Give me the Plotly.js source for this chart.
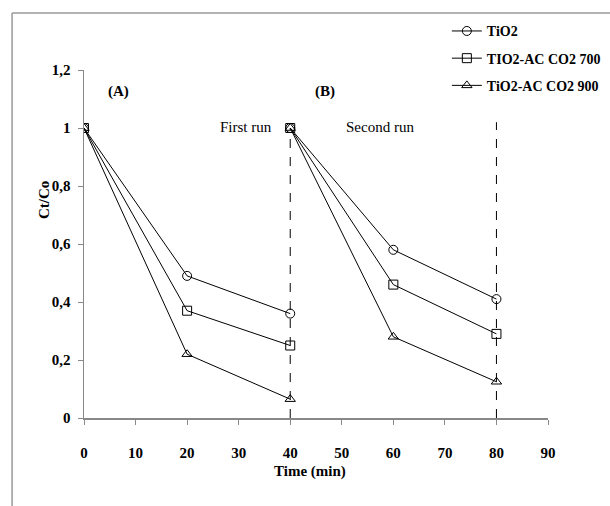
<!DOCTYPE html>
<html><head><meta charset="utf-8">
<script src="https://cdn.plot.ly/plotly-3.0.1.min.js"></script>
<style>html,body{margin:0;padding:0;background:#fff}#c{width:610px;height:506px}</style>
</head><body><div id="c"></div>
<script>
var seriesNames = ["TiO2", "TIO2-AC CO2 700", "TiO2-AC CO2 900"];
var run1Time = [0, 20, 40];
var run2Time = [40, 60, 80];
var tio2Run1 = [1, 0.49, 0.36];
var tio2Run2 = [1, 0.58, 0.41];
var ac700Run1 = [1, 0.37, 0.25];
var ac700Run2 = [1, 0.46, 0.29];
var ac900Run1 = [1, 0.22, 0.065];
var ac900Run2 = [1, 0.28, 0.125];
var runLabels = ["First run", "Second run"];
var panelLabels = ["(A)", "(B)"];

var symbols = ["circle-open", "square-open", "triangle-up-open"];
var runs = [[tio2Run1, tio2Run2], [ac700Run1, ac700Run2], [ac900Run1, ac900Run2]];
var font = "Liberation Serif";

var traces = runs.map(function (r, i) {
  return {
    type: "scatter", mode: "lines+markers", name: seriesNames[i], legendgroup: "g" + i,
    x: run1Time.concat([null], run2Time),
    y: r[0].concat([null], r[1]),
    connectgaps: false,
    line: {color: "#000", width: 1},
    marker: {symbol: symbols[i], size: 9, color: "#000", line: {color: "#000", width: 1}}
  };
});

var layout = {
  width: 610, height: 506,
  margin: {l: 84, r: 62, t: 70, b: 88, autoexpand: false},
  separators: ",.",
  paper_bgcolor: "#fff", plot_bgcolor: "#fff",
  font: {family: font, color: "#000"},
  showlegend: true,
  legend: {x: 0.782, y: 1.157, xanchor: "left", yanchor: "top", bgcolor: "rgba(0,0,0,0)",
           font: {family: font, size: 14, weight: "bold"}, itemwidth: 30, tracegroupgap: 6},
  xaxis: {range: [0, 90], dtick: 10, tick0: 0, showgrid: false, zeroline: false,
          showline: true, linecolor: "#888", linewidth: 1.5, ticks: "outside", ticklen: 5,
          tickcolor: "#888", ticklabelstandoff: 15,
          tickfont: {family: font, size: 15, weight: "bold"}},
  yaxis: {range: [0, 1.2], dtick: 0.2, tick0: 0, showgrid: false, zeroline: false,
          showline: true, linecolor: "#888", linewidth: 1.5, ticks: "outside", ticklen: 5,
          tickcolor: "#888", ticklabelstandoff: 4,
          tickfont: {family: font, size: 15, weight: "bold"}},
  shapes: [
    {type: "line", xref: "x", yref: "y", x0: run1Time[2], x1: run1Time[2], y0: 0, y1: 1,
     line: {color: "#000", width: 1, dash: "dash"}},
    {type: "line", xref: "x", yref: "y", x0: run2Time[2], x1: run2Time[2], y0: 0, y1: 1.02,
     line: {color: "#000", width: 1, dash: "dash"}},
    {type: "line", xref: "paper", yref: "paper", x0: -0.155, x1: 1.2, y0: 1.164, y1: 1.164,
     line: {color: "#999", width: 1.5}},
    {type: "line", xref: "paper", yref: "paper", x0: -0.155, x1: -0.155, y0: 1.164, y1: -0.3,
     line: {color: "#999", width: 1.5}}
  ],
  annotations: [
    {xref: "x", yref: "y", x: 6.6, y: 1.125, text: panelLabels[0], showarrow: false,
     font: {family: font, size: 15, weight: "bold"}},
    {xref: "x", yref: "y", x: 46.8, y: 1.125, text: panelLabels[1], showarrow: false,
     font: {family: font, size: 15, weight: "bold"}},
    {xref: "x", yref: "y", x: 31.5, y: 1.005, text: runLabels[0], showarrow: false,
     font: {family: font, size: 15}},
    {xref: "x", yref: "y", x: 57.4, y: 1.005, text: runLabels[1], showarrow: false,
     font: {family: font, size: 15}},
    {xref: "paper", yref: "paper", x: (310 - 84) / 464, y: -(482 - 418) / 348, text: "Time (min)",
     showarrow: false, font: {family: font, size: 15, weight: "bold"}},
    {xref: "paper", yref: "paper", x: (34 - 84) / 464, y: (418 - 200) / 348, text: "Ct/Co",
     textangle: -90, showarrow: false, font: {family: font, size: 15, weight: "bold"}}
  ]
};

Plotly.newPlot("c", traces, layout, {displayModeBar: false, staticPlot: true});
</script></body></html>
